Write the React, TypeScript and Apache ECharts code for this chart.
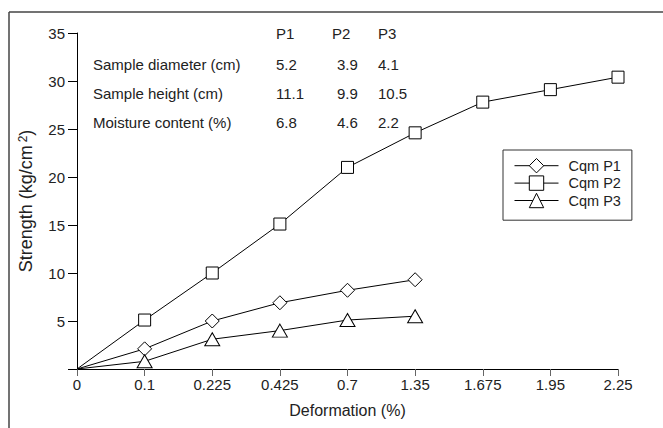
import React, { useEffect, useRef } from "react";
import * as echarts from "echarts";

const categories = ["0", "0.1", "0.225", "0.425", "0.7", "1.35", "1.675", "1.95", "2.25"];
const seriesNames = ["Cqm P1", "Cqm P2", "Cqm P3"];
const p1 = [0, 2.1, 5.0, 6.9, 8.2, 9.3];
const p2 = [0, 5.1, 10.0, 15.1, 21.0, 24.6, 27.8, 29.1, 30.4];
const p3 = [0, 0.8, 3.1, 4.0, 5.1, 5.5];
const symbols = ["diamond", "rect", "triangle"];

const tableHeaders = ["P1", "P2", "P3"];
const tableRowLabels = ["Sample diameter (cm)", "Sample height (cm)", "Moisture content (%)"];
const diameter = ["5.2", "3.9", "4.1"];
const sampleHeight = ["11.1", "9.9", "10.5"];
const moisture = ["6.8", "4.6", "2.2"];

const FONT = "'Liberation Sans', Arial, Helvetica, sans-serif";

export default function App() {
  const ref = useRef<HTMLDivElement>(null);
  useEffect(() => {
    if (!ref.current) return;
    const chart = echarts.init(ref.current, null, { renderer: "svg" });

    const headerX = [276, 332, 378];
    const valueX = [276, 337, 378];
    const rowY = [64, 93, 122];
    const tableValues = [diameter, sampleHeight, moisture];
    const txt = (text: string, x: number, y: number) => ({
      type: "text",
      x,
      y,
      style: { text, fill: "#222", font: `15px ${FONT}`, textVerticalAlign: "middle", textAlign: "left" },
    });
    const graphics: any[] = [
      { type: "line", shape: { x1: 9, y1: 12, x2: 663, y2: 12 }, style: { stroke: "#444", lineWidth: 1.5 } },
      { type: "line", shape: { x1: 9, y1: 12, x2: 9, y2: 428 }, style: { stroke: "#444", lineWidth: 1.5 } },
    ];
    tableHeaders.forEach((h, i) => graphics.push(txt(h, headerX[i], 33)));
    tableRowLabels.forEach((l, r) => {
      graphics.push(txt(l, 93, rowY[r]));
      tableValues[r].forEach((v, c) => graphics.push(txt(v, valueX[c], rowY[r])));
    });

    const mk = (arr: number[]) => arr.map((v, i) => (i === 0 ? { value: v, symbol: "none" } : v));
    const datas = [p1, p2, p3];
    const sizes: any[] = [14, 12, [15, 13]];

    chart.setOption({
      animation: false,
      textStyle: { fontFamily: FONT },
      grid: { left: 77, top: 33, right: 45, bottom: 59, containLabel: false },
      legend: {
        orient: "vertical",
        left: 503,
        top: 150,
        data: seriesNames,
        itemWidth: 44,
        itemHeight: 18,
        itemGap: 2,
        padding: [8, 11, 12, 11],
        borderColor: "#333",
        borderWidth: 1,
        backgroundColor: "#fff",
        lineStyle: { width: 1, color: "#000" },
        itemStyle: { color: "#fff", borderColor: "#000", borderWidth: 1 },
        textStyle: { fontSize: 14.5, color: "#222", fontFamily: FONT, padding: [0, 0, 0, 5] },
      },
      xAxis: {
        type: "category",
        data: categories,
        boundaryGap: false,
        name: "Deformation (%)",
        nameLocation: "middle",
        nameGap: 33,
        nameTextStyle: { fontSize: 16, color: "#222", fontFamily: FONT },
        axisLine: { lineStyle: { color: "#000", width: 1 } },
        axisTick: { length: 7, lineStyle: { color: "#666" } },
        axisLabel: { fontSize: 15, color: "#222", margin: 8, interval: 0, fontFamily: FONT },
        splitLine: { show: false },
      },
      yAxis: {
        type: "value",
        min: 0,
        max: 35,
        interval: 5,
        name: "Strength (kg/cm{sup|2})",
        nameLocation: "middle",
        nameGap: 42,
        nameTextStyle: {
          fontSize: 18,
          color: "#222",
          fontFamily: FONT,
          rich: { sup: { fontSize: 12, verticalAlign: "top", padding: [0, 0, 6, 3], color: "#222", fontFamily: FONT } },
        },
        axisLine: { show: true, lineStyle: { color: "#000", width: 1 } },
        axisTick: { show: true, length: 9, lineStyle: { color: "#000" } },
        axisLabel: {
          fontSize: 15,
          color: "#222",
          margin: 12,
          fontFamily: FONT,
          formatter: (v: number) => (v === 0 ? "" : String(v)),
        },
        splitLine: { show: false },
      },
      series: seriesNames.map((name, i) => ({
        name,
        type: "line",
        data: mk(datas[i]),
        symbol: symbols[i],
        symbolSize: sizes[i],
        showSymbol: true,
        showAllSymbol: true,
        lineStyle: { color: "#000", width: 1 },
        itemStyle: { color: "#fff", borderColor: "#000", borderWidth: 1 },
        z: 3,
      })),
      graphic: graphics,
    });
    return () => chart.dispose();
  }, []);
  return (
    <div
      ref={ref}
      style={{ position: "absolute", left: 0, top: 0, width: 663, height: 428, background: "#fff" }}
    />
  );
}
